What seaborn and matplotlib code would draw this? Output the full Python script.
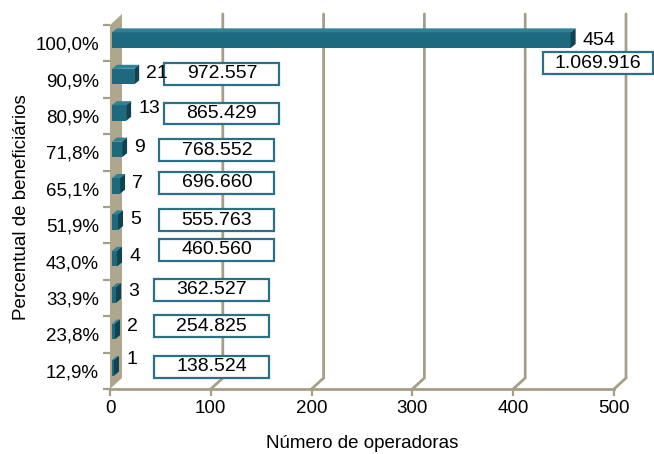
import numpy as np
import pandas as pd
import matplotlib
matplotlib.use("Agg")
import matplotlib.pyplot as plt
from matplotlib.patches import Polygon, Rectangle
import seaborn as sns

# ---- data ----
categorias = ['100,0%', '90,9%', '80,9%', '71,8%', '65,1%',
              '51,9%', '43,0%', '33,9%', '23,8%', '12,9%']
operadoras = [454, 21, 13, 9, 7, 5, 4, 3, 2, 1]
beneficiarios = [1069916, 972557, 865429, 768552, 696660,
                 555763, 460560, 362527, 254825, 138524]
x_ticks = [0, 100, 200, 300, 400, 500]

df = pd.DataFrame({'cat': categorias, 'ops': operadoras})

# ---- layout constants (pixels / data-x for annotation boxes) ----
box_x = [484, 111, 111, 106, 106, 106, 106, 101, 101, 101]
box_w_px = [110, 115, 115, 115, 115, 115, 115, 115, 115, 115]
box_dy_px = [-20, 6, 2.5, 2, 6, 5, 12, 8, 8, 4]
lab_dy_px = [3, 6, 7, 5, 5.5, 5.5, 5, 6, 8, 11]
DX, DY = 12, 11          # 3D depth of the chart box
BDX, BDY = 5, 4          # 3D depth of bars

WALL = '#aea68d'
GRID = '#a69e86'
FRONT = '#1d6a7f'
TOP = '#2f8196'
SIDE = '#0f4352'
BOXC = '#2a7188'

sns.set_theme(style='white')
plt.rcParams['font.family'] = ['Liberation Sans', 'DejaVu Sans']
plt.rcParams['text.color'] = 'black'
plt.rcParams['axes.labelcolor'] = 'black'

fig = plt.figure(figsize=(6.54, 4.54), dpi=100)
ax = fig.add_axes([110/654, (454-389)/454, 504/654, (389-25)/454])

sns.barplot(data=df, x='ops', y='cat', orient='h', color=FRONT,
            width=0.43, saturation=1, ax=ax, zorder=5, edgecolor='none')
ax.set_xlim(0, 500)
ax.set_ylim(9.5, -0.5)
ax.set_xticks(x_ticks)
ax.set_xticklabels([str(v) for v in x_ticks])

def d2p(x, y):
    return ax.transData.transform((x, y))

def p2d(px, py):
    return ax.transData.inverted().transform((px, py))

def poly(pts_px, **kw):
    pts = [p2d(*p) for p in pts_px]
    pg = Polygon(pts, closed=True, transform=ax.transData, clip_on=False, **kw)
    ax.add_patch(pg)
    return pg

# left wall
fb = d2p(0, 9.5); ft = d2p(0, -0.5)
poly([fb, ft, (ft[0]+DX, ft[1]+DY), (fb[0]+DX, fb[1]+DY)],
     facecolor=WALL, edgecolor='none', zorder=1)

# 3D grid lines (floor diagonals + back wall verticals)
for xt in x_ticks[1:]:
    b = d2p(xt, 9.5); t = d2p(xt, -0.5)
    pts = [p2d(*b), p2d(b[0]+DX, b[1]+DY), p2d(t[0]+DX, t[1]+DY)]
    xs, ys = zip(*pts)
    ax.plot(xs, ys, color=GRID, lw=2, zorder=2, clip_on=False,
            solid_joinstyle='miter')

# 3D bars
for i, p in enumerate(list(ax.patches)[:len(operadoras)]):
    w = p.get_width(); y0 = p.get_y(); h = p.get_height()
    L, B = d2p(0, y0 + h)
    R, T = d2p(w, y0)
    L += 2; R += 3; B += 3; T += 3
    nl, nb = p2d(L, B); nr, nt = p2d(R, T)
    p.set_x(nl); p.set_width(nr - nl)
    p.set_y(nt); p.set_height(nb - nt)
    poly([(L, T), (R, T), (R+BDX, T+BDY), (L+BDX, T+BDY)],
         facecolor=TOP, edgecolor='none', zorder=6)
    poly([(R, B), (R, T), (R+BDX, T+BDY), (R+BDX, B+BDY)],
         facecolor=SIDE, edgecolor='none', zorder=6)
    # value label
    cy = d2p(0, i)[1] + lab_dy_px[i]
    lx, ly = p2d(R + BDX + 7, cy)
    ax.text(lx, ly, str(operadoras[i]), ha='left', va='center',
            fontsize=14, color='black', zorder=8, clip_on=False)

# boxed beneficiary counts
for i, v in enumerate(beneficiarios):
    cx, cy = d2p(box_x[i], i)
    cy += box_dy_px[i]
    hw = box_w_px[i] / 2; hh = 11
    x0, y0 = p2d(cx - hw, cy - hh)
    x1, y1 = p2d(cx + hw, cy + hh)
    ax.add_patch(Rectangle((x0, y1), x1 - x0, y0 - y1, facecolor='white',
                           edgecolor=BOXC, lw=1.6, zorder=7, clip_on=False))
    tx, ty = p2d(cx, cy)
    ax.text(tx, ty, f"{v:,}".replace(',', '.'), ha='center', va='center',
            fontsize=14, color='black', zorder=8, clip_on=False)

# axes styling
for s in ['top', 'right', 'left']:
    ax.spines[s].set_visible(False)
ax.spines['bottom'].set_color(GRID)
ax.spines['bottom'].set_linewidth(2)
ax.spines['bottom'].set_zorder(3)
ax.set_yticks(np.arange(-0.5, 10, 1), minor=True)
ax.tick_params(axis='y', which='major', length=0, pad=8, labelsize=13.5,
               colors='black')
ax.tick_params(axis='y', which='minor', length=5, width=1.6, color=GRID, left=True)
ax.tick_params(axis='x', which='major', length=5, width=1.6, color=GRID,
               pad=3, labelsize=13.5, labelcolor='black', bottom=True)
ax.set_xlabel('Número de operadoras', fontsize=13.5, labelpad=13, color='black')
ax.set_ylabel('Percentual de beneficiários', fontsize=13.5, labelpad=4, color='black')
ax.set_facecolor('none')

fig.savefig('out.png', dpi=100)
